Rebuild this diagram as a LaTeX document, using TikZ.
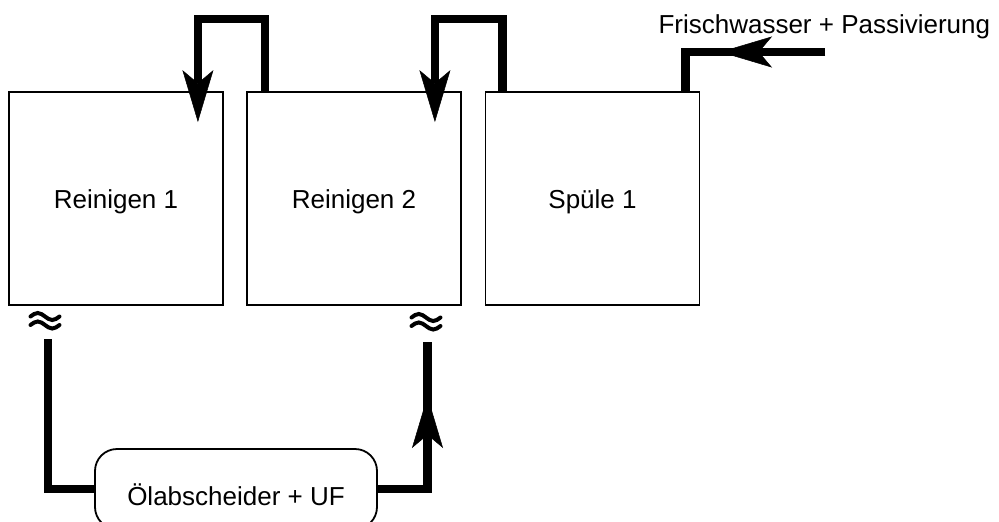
\documentclass[tikz,border=0pt]{standalone}
\usepackage{fontspec}
\setmainfont{Liberation Sans}
\usetikzlibrary{arrows.meta}

\begin{document}
\begin{tikzpicture}[x=1pt,y=-1pt,
  lbl/.style={font=\fontsize{26}{30}\selectfont},
  tank/.style={draw, lbl, line width=1.8pt, minimum width=214pt, minimum height=213pt,
    inner sep=0pt, text height=20pt, text depth=0pt},
  filter/.style={draw, lbl, line width=1.8pt, rounded corners=22pt, minimum width=282pt,
    minimum height=80pt, inner sep=0pt, text height=32pt, text depth=0pt},
  pipe/.style={line width=8.5pt, line join=miter, line cap=butt},
  flow/.style={-{Stealth[length=52pt, width=31pt, inset=13pt, line width=0.5pt]}},
  wave/.style={line width=4pt, line cap=round},
  breakmark/.pic={
    \draw[wave] (-14.5,-4) sin (-7.25,-7.5) cos (0,-4) sin (7.25,-0.5) cos (14.5,-4);
    \draw[wave] (-14.5,4.5) sin (-7.25,1) cos (0,4.5) sin (7.25,8) cos (14.5,4.5);
  }
]
\useasboundingbox (0,0) rectangle (999,522);

% tanks of the cascade
\node[tank] (r1) at (116,198.5) {Reinigen 1};
\node[tank] (r2) at (354,198.5) {Reinigen 2};
\node[tank] (r3) at (592.5,198.5) {Spüle 1};

% separator unit below the line
\node[filter] (ol) at (236,489) {Ölabscheider + UF};

% fresh water supply
\node[lbl, anchor=base west] (fw) at (655,33) {Frischwasser + Passivierung};

% cascade overflows
\draw[pipe, flow] ([xshift=19pt]r2.north west) -- ++(0,-72)
  -| ([xshift=-26pt, yshift=-31pt]r1.north east);
\draw[pipe, flow] ([xshift=18pt]r3.north west) -- ++(0,-72)
  -| ([xshift=-27pt, yshift=-31pt]r2.north east);

% inlet into the rinse tank
\coordinate (inlet) at (825,52);
\coordinate (inhead) at (720,52);
\draw[pipe] (inlet) -| ([xshift=-15pt]r3.north east);
\draw[pipe, flow] (inlet) -- (inhead);

% bypass loop through the separator
\coordinate (brk1) at (48,339);
\coordinate (brk2) at (427.5,342);
\coordinate (uphead) at (427.5,396);
\draw[pipe] (brk1) |- (ol.west);
\draw[pipe] (ol.east) -| (brk2);
\draw[pipe, flow] (ol.east -| brk2) -- (uphead);

% interruption marks
\pic at (45,320.5) {breakmark};
\pic at (426,321.5) {breakmark};
\end{tikzpicture}
\end{document}
